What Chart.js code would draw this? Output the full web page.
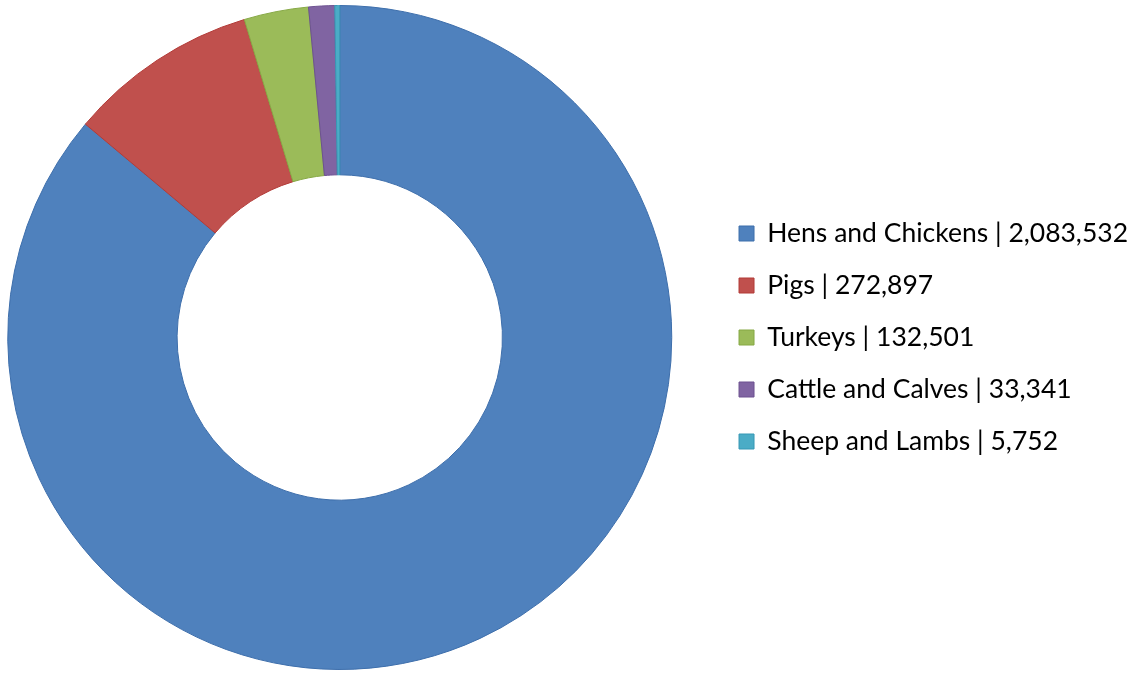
<!DOCTYPE html>
<html>
<head>
<meta charset="utf-8">
<script src="https://cdn.jsdelivr.net/npm/chart.js@4.4.1/dist/chart.umd.min.js"></script>
<style>
  html, body { margin: 0; padding: 0; background: #fff; overflow: hidden; }
  /* canvas a bit wider than the window, pushed left, so the ring sits where it does in the original */
  #wrap { width: 1172px; height: 673px; margin-left: -34px; position: relative; }
</style>
</head>
<body>
<div id="wrap"><canvas id="donut"></canvas></div>
<script>
const labels = ['Hens and Chickens', 'Pigs', 'Turkeys', 'Cattle and Calves', 'Sheep and Lambs'];
// numbers printed in the legend
const counts = [2083532, 272897, 132501, 33341, 5752];
// share of the ring each slice takes in the picture (percent)
const sliceShares = [86.1, 9.25, 3.14, 1.26, 0.24];
const fills = ['#4F81BD', '#C0504D', '#9BBB59', '#8064A2', '#4BACC6'];
const edges = ['#3d6eab', '#b23a37', '#86a845', '#6c5190', '#3798b5'];

const fmt = n => n.toLocaleString('en-US');

new Chart(document.getElementById('donut'), {
  type: 'doughnut',
  data: {
    labels: labels,
    datasets: [{
      data: sliceShares,
      backgroundColor: fills,
      borderColor: edges,
      borderWidth: 1
    }]
  },
  options: {
    responsive: true,
    maintainAspectRatio: false,
    animation: false,
    cutout: '49%',
    layout: { padding: { top: 5, bottom: 3, left: 0, right: 0 } },
    plugins: {
      tooltip: { enabled: false },
      legend: {
        position: 'right',
        align: 'center',
        labels: {
          color: '#000',
          boxWidth: 15,
          boxHeight: 15,
          padding: 25.5,
          font: { family: 'Lato', size: 26.5 },
          generateLabels: chart => labels.map((l, i) => ({
            text: l + ' | ' + fmt(counts[i]),
            fillStyle: fills[i],
            strokeStyle: edges[i],
            lineWidth: 1,
            index: i
          }))
        }
      }
    }
  }
});
</script>
</body>
</html>
